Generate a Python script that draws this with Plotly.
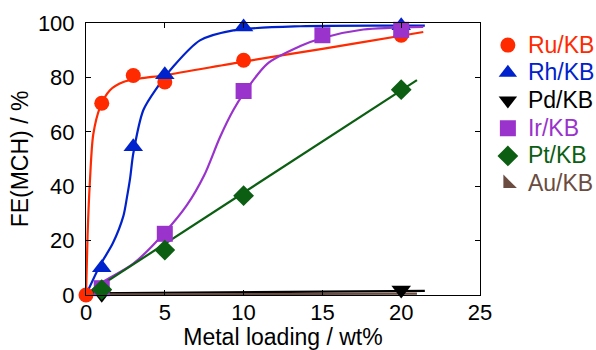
import plotly.graph_objects as go

# measured points
ru_x = [0, 1, 3, 5, 10, 20]
ru_y = [0, 70.5, 80.7, 78.3, 86.3, 95.5]
rh_x = [1, 3, 5, 10, 20]
rh_y = [10.0, 54.5, 81.0, 98.5, 99.0]
pd_x = [1, 20]
pd_y = [0.3, 1.8]
ir_x = [1, 5, 10, 15, 20]
ir_y = [2.5, 22.5, 75.0, 95.5, 97.5]
pt_x = [1, 5, 10, 20]
pt_y = [2.0, 16.5, 36.5, 75.5]
au_x = [1, 20]
au_y = [-0.8, -0.4]

# fitted curves
ru_fx = [0, 0.1, 0.25, 0.46, 0.89, 1.52, 2.37, 3.43, 5.0, 10.0, 15.0, 20.0, 21.4]
ru_fy = [0, 22, 42, 59, 69, 75.3, 78.3, 79.6, 80.8, 85.8, 90.5, 95.3, 96.7]
rh_fx = [0, 0.9, 1.7, 2.37, 2.6, 2.8, 3.0, 3.64, 4.48, 5.54, 7.23, 9.35, 13.6, 21.5]
rh_fy = [0, 11, 19, 29, 36, 43, 52, 68, 76, 84, 93.6, 97.3, 98.8, 99.0]
ir_fx = [0, 1.0, 3.0, 5.0, 6.4, 7.5, 8.5, 9.35, 10.0, 11.5, 13.6, 15.0, 17.6, 21.4]
ir_fy = [0, 4.5, 11.5, 23, 33, 44, 58, 68, 74, 85, 91.5, 94.5, 97.6, 98.6]
pt_fx = [0, 21.0]
pt_fy = [0, 79.0]
pd_fx = [0, 21.5]
pd_fy = [0.6, 1.5]
au_fx = [0, 21.0]
au_fy = [0.2, 0.5]

series = [
    ("Ru/KB", "#ff2a00", "circle", ru_x, ru_y, ru_fx, ru_fy, "spline", 15),
    ("Rh/KB", "#0022cc", "triangle-up", rh_x, rh_y, rh_fx, rh_fy, "spline", 17),
    ("Pd/KB", "#000000", "triangle-down", pd_x, pd_y, pd_fx, pd_fy, "linear", 17),
    ("Ir/KB", "#9933cc", "square", ir_x, ir_y, ir_fx, ir_fy, "spline", 16),
    ("Pt/KB", "#0b5e12", "diamond", pt_x, pt_y, pt_fx, pt_fy, "linear", 16),
    ("Au/KB", "#6b4c40", "triangle-sw", au_x, au_y, au_fx, au_fy, "linear", 15),
]

fig = go.Figure()
for name, col, sym, x, y, fx, fy, shape, sz in series:
    fig.add_trace(go.Scatter(x=fx, y=fy, mode="lines", line=dict(color=col, width=2.2, shape=shape, smoothing=0.8),
                             showlegend=False, hoverinfo="skip", cliponaxis=False))
for name, col, sym, x, y, fx, fy, shape, sz in series:
    fig.add_trace(go.Scatter(x=x, y=y, mode="markers",
                             marker=dict(symbol=sym, color=col, size=sz, line=dict(width=0)),
                             name=f'<span style="color:{col};font-size:23px">{name}</span>', cliponaxis=False))

axis_common = dict(showline=True, linecolor="black", linewidth=1, mirror="ticks", ticks="inside",
                   ticklen=5, tickcolor="black", showgrid=False, zeroline=False, automargin=False,
                   tickfont=dict(size=22, color="black"))
fig.update_layout(
    width=596, height=350,
    margin=dict(l=86, r=116, t=23, b=55, autoexpand=False),
    paper_bgcolor="white", plot_bgcolor="white",
    font=dict(family="Liberation Sans, Arial, sans-serif", size=20, color="black"),
    xaxis=dict(range=[0, 25], tickvals=[0, 5, 10, 15, 20, 25], ticklabelstandoff=-2,
               title=dict(text="Metal loading / wt%", font=dict(size=23), standoff=15), **axis_common),
    yaxis=dict(range=[0, 100], tickvals=[0, 20, 40, 60, 80, 100], ticklabelstandoff=6,
               title=dict(text="FE(MCH) / %", font=dict(size=23), standoff=2), **axis_common),
    legend=dict(x=1.02, y=0.988, xanchor="left", yanchor="top", font=dict(size=19),
                bgcolor="rgba(0,0,0,0)", itemsizing="trace", tracegroupgap=0),
)
fig.write_html("out.html", config={"displayModeBar": False},
               post_script="document.body.style.margin='0';document.body.style.overflow='hidden';")
